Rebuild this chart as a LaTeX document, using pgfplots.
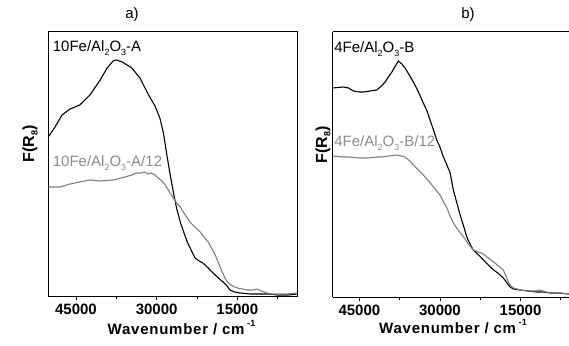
\documentclass[border=0pt]{standalone}
\usepackage{fontspec}
\setmainfont{Liberation Sans}
\usepackage{pgfplots}
\usepackage{pgfplotstable}
\pgfplotsset{compat=1.18}
\definecolor{curvegray}{RGB}{128,128,128}
\definecolor{labelgray}{RGB}{140,140,140}
\newcommand{\sub}[1]{\raisebox{-0.4ex}{\fontsize{9}{9}\selectfont #1}}
\newcommand{\Fs}{\fontsize{15}{18}\selectfont}

\pgfplotstableread{
w y
50150 159
48900 169
47600 181
46100 187
44300 191
42400 201
40500 216
39200 228
38100 235
37500 236
36400 234
34600 228
33100 218
31600 202
30300 190
29400 178
28700 162
28100 141
27500 122
26900 104
26300 88
25600 74
24900 63
24300 54
23500 45
22850 38
22100 35
21400 33
20400 28
19500 23
18500 18
17650 14
16900 10
16350 6
15500 4
14500 3
12500 2
10750 2
9000 2
7600 1
5500 1
3800 2
}\blackA

\pgfplotstableread{
w y
50150 109
48000 109
46100 112
44300 114
42400 116
40500 115
38100 116
35900 119
34600 121
33700 123
32800 123
32200 124
31600 122
31000 123
30300 121
29900 119
29200 116
28400 111
27700 105
26900 98
26300 93
25600 89
24800 82
23800 74
22900 69
21900 64
21200 59
20400 54
19800 48
19100 41
18500 33
17800 24
17200 17
16700 13
15900 10
15000 8
14000 7
13200 6
12200 6
11300 7
10500 5
9500 3
8500 2
7600 2
6000 2
3800 3
}\grayA

\pgfplotstableread{
w y
50000 209
48000 210
47000 209
46100 206
45000 205
44250 205
43000 206
41750 207
40900 211
40200 215
39600 220
38950 225
38300 231
37750 236
37100 233
36500 229
35700 222
34950 215
34000 205
33100 194
32400 186
31850 177
31200 167
30600 157
30000 150
29350 140
28700 132
28100 124
27500 107
26900 95
26250 82
25600 71
25000 60
24400 53
23800 47
22800 42
21900 37
21000 32
20000 27
19000 23
18200 19
17500 14
16950 10
16300 8
15100 7
13500 6
12000 5
10700 5
9500 4
8000 4
6000 3
}\blackB

\pgfplotstableread{
w y
50000 141
48000 140
47000 140
45000 139
43300 139
41800 140
40900 140
39500 141
38000 142
37200 141
36500 140
35800 137
34950 132
34000 127
33100 122
32100 116
31200 110
30600 106
30000 102
29300 95
28700 89
28100 81
27500 74
26500 66
25600 60
24700 53
23800 47
22800 45
21900 43
21000 39
20000 35
19100 31
18200 27
17700 21
17300 15
16800 11
16300 9
15000 7
13800 6
12500 6
11400 7
10200 5
8950 4
7500 4
6000 3
}\grayB

\pgfplotsset{
  panel/.style={
    scale only axis,
    anchor=south west,
    x dir=reverse,
    ymin=0,
    scaled x ticks=false,
    xtick={45000,30000,15000},
    xticklabels={45000,30000,15000},
    minor xtick={37500,22500,7500},
    ytick=\empty,
    tick align=outside,
    major tick length=4pt,
    minor tick length=3pt,
    tick style={black, line width=0.8pt},
    axis line style={line width=1pt},
    xticklabel style={font=\Fs\bfseries},
    title style={font=\Fs, anchor=base},
    ylabel style={font=\fontsize{16}{19}\selectfont\bfseries, anchor=center},
    xlabel style={font=\Fs\bfseries\addfontfeature{LetterSpace=5}, anchor=base},
  },
}

\begin{document}
\begin{tikzpicture}
\path[use as bounding box] (0,0) rectangle (569pt,345pt);

\begin{axis}[panel,
  at={(48.3pt,49pt)}, width=249.2pt, height=264pt,
  xmin=3800, xmax=50150, ymax=264,
  xtick pos=bottom,
  title={a)}, title style={at={(axis description cs:0.336,1)}, yshift=7pt},
  ylabel={F(R\sub{8})}, ylabel style={at={(axis description cs:-0.073,0.576)}},
  xlabel={Wavenumber / cm\,\raisebox{0.9ex}{\fontsize{9}{9}\selectfont -1}},
  xlabel style={at={(axis description cs:0.535,0)}, yshift=-38pt},
]
\addplot[black, line width=1.1pt] table[x=w,y=y]{\blackA};
\addplot[curvegray, line width=1.1pt] table[x=w,y=y]{\grayA};
\node[anchor=base west, font=\Fs, inner sep=0pt] at (axis cs:49336,244) {10Fe/Al\sub{2}O\sub{3}-A};
\node[anchor=base west, font=\Fs, inner sep=0pt, text=labelgray] at (axis cs:49336,129) {10Fe/Al\sub{2}O\sub{3}-A/12};
\end{axis}

\begin{axis}[panel,
  at={(332.5pt,48pt)}, width=236.5pt, height=265pt,
  xmin=5975, xmax=50000, ymax=265,
  axis x line*=box, axis y line*=left,
  xtick pos=bottom,
  title={b)}, title style={at={(axis description cs:0.573,1)}, yshift=7pt},
  ylabel={F(R\sub{8})}, ylabel style={at={(axis description cs:-0.040,0.574)}},
  xlabel={Wavenumber / cm\,\raisebox{0.9ex}{\fontsize{9}{9}\selectfont -1}},
  xlabel style={at={(axis description cs:0.51,0)}, yshift=-36pt},
]
\addplot[black, line width=1.1pt] table[x=w,y=y]{\blackB};
\addplot[curvegray, line width=1.1pt] table[x=w,y=y]{\grayB};
\node[anchor=base west, font=\Fs, inner sep=0pt] at (axis cs:49700,244) {4Fe/Al\sub{2}O\sub{3}-B};
\node[anchor=base west, font=\Fs, inner sep=0pt, text=labelgray] at (axis cs:49700,150) {4Fe/Al\sub{2}O\sub{3}-B/12};
\end{axis}
\end{tikzpicture}
\end{document}
